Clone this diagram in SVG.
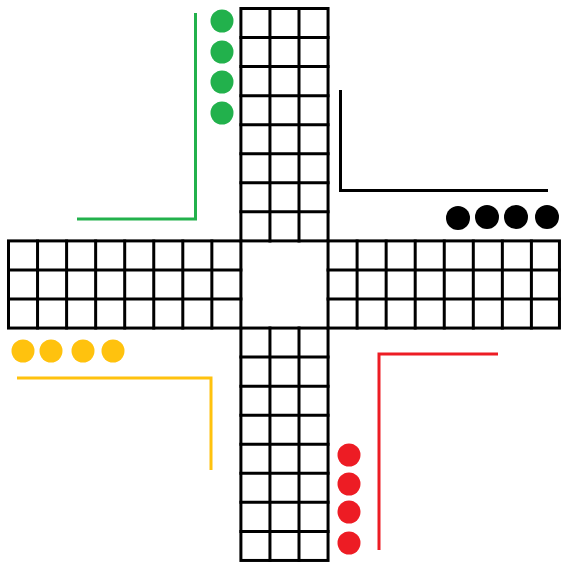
<svg xmlns="http://www.w3.org/2000/svg" width="561" height="563" viewBox="0 0 561 563">
<style>
.grid{fill:none;stroke:#000;stroke-width:3;stroke-linecap:square}
.home{fill:none;stroke-width:3;stroke-linecap:butt;stroke-linejoin:miter}
.g{stroke:#22b14c}.gf{fill:#22b14c}
.k{stroke:#000}.kf{fill:#000}
.y{stroke:#ffc20e}.yf{fill:#ffc20e}
.r{stroke:#ed1c24}.rf{fill:#ed1c24}
</style>
<rect width="561" height="563" fill="#fff"/>
<g id="board">
<g id="arm-top">
<rect class="grid" x="240.9" y="8.5" width="87.15" height="232.4"/>
<path class="grid" d="M269.95 8.5V240.9M299 8.5V240.9M240.9 37.55H328.05M240.9 66.6H328.05M240.9 95.65H328.05M240.9 124.7H328.05M240.9 153.75H328.05M240.9 182.8H328.05M240.9 211.85H328.05"/>
</g>
<g id="arm-bottom">
<rect class="grid" x="240.9" y="328.05" width="87.15" height="232.4"/>
<path class="grid" d="M269.95 328.05V560.45M299 328.05V560.45M240.9 357.1H328.05M240.9 386.15H328.05M240.9 415.2H328.05M240.9 444.25H328.05M240.9 473.3H328.05M240.9 502.35H328.05M240.9 531.4H328.05"/>
</g>
<g id="arm-left">
<rect class="grid" x="8.5" y="240.9" width="232.4" height="87.15"/>
<path class="grid" d="M8.5 269.95H240.9M8.5 299H240.9M37.55 240.9V328.05M66.6 240.9V328.05M95.65 240.9V328.05M124.7 240.9V328.05M153.75 240.9V328.05M182.8 240.9V328.05M211.85 240.9V328.05"/>
</g>
<g id="arm-right">
<rect class="grid" x="328.05" y="240.9" width="231.4" height="87.15"/>
<path class="grid" d="M328.05 269.95H559.45M328.05 299H559.45M357.1 240.9V328.05M386.15 240.9V328.05M415.2 240.9V328.05M444.25 240.9V328.05M473.3 240.9V328.05M502.35 240.9V328.05M531.4 240.9V328.05"/>
</g>
</g>
<g id="connectors">
<path class="home g" d="M195.5 13V219H77"/>
<path class="home k" d="M340.5 90V190.5H548"/>
<path class="home y" d="M17 378H211V470"/>
<path class="home r" d="M498 354H379V550"/>
</g>
<g id="green-tokens" class="gf">
<circle cx="222" cy="21" r="11.5"/><circle cx="222" cy="52" r="11.5"/><circle cx="222" cy="82" r="11.5"/><circle cx="222" cy="113" r="11.5"/>
</g>
<g id="black-tokens" class="kf">
<circle cx="458" cy="218" r="12"/><circle cx="487" cy="217" r="12"/><circle cx="516" cy="217" r="12"/><circle cx="547" cy="217" r="12"/>
</g>
<g id="yellow-tokens" class="yf">
<circle cx="23" cy="351" r="11.5"/><circle cx="51" cy="351" r="11.5"/><circle cx="83" cy="351" r="11.5"/><circle cx="113" cy="351" r="11.5"/>
</g>
<g id="red-tokens" class="rf">
<circle cx="349" cy="455" r="11.5"/><circle cx="349" cy="484" r="11.5"/><circle cx="349" cy="512" r="11.5"/><circle cx="349" cy="543" r="11.5"/>
</g>
</svg>
